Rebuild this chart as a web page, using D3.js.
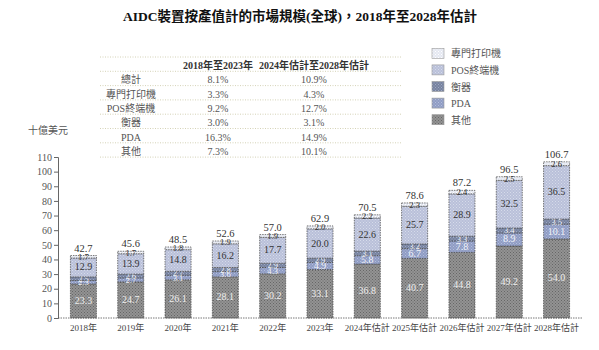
<!DOCTYPE html>
<html>
<head>
<meta charset="utf-8">
<script src="https://cdn.jsdelivr.net/npm/d3@7"></script>
<style>
  body { margin: 0; background: #fff; }
  text { font-family: "Liberation Serif", "Noto Sans CJK TC", serif; }
</style>
</head>
<body>
<div id="chart"></div>
<script>
// Data
const years = ['2018年', '2019年', '2020年', '2021年', '2022年', '2023年',
    '2024年估計', '2025年估計', '2026年估計', '2027年估計', '2028年估計']
const others = [23.3, 24.7, 26.1, 28.1, 30.2, 33.1, 36.8, 40.7, 44.8, 49.2, 54.0]
const pda = [2.3, 2.7, 3.1, 3.6, 4.3, 4.9, 5.8, 6.7, 7.8, 8.9, 10.1]
const scales = [2.5, 2.6, 2.7, 2.8, 2.9, 2.9, 3.1, 3.2, 3.3, 3.4, 3.5]
const pos = [12.9, 13.9, 14.8, 16.2, 17.7, 20.0, 22.6, 25.7, 28.9, 32.5, 36.5]
const printers = [1.7, 1.7, 1.8, 1.9, 1.9, 2.0, 2.2, 2.3, 2.4, 2.5, 2.6]
const totals = [42.7, 45.6, 48.5, 52.6, 57.0, 62.9, 70.5, 78.6, 87.2, 96.5, 106.7]
const yTicks = [0, 10, 20, 30, 40, 50, 60, 70, 80, 90, 100, 110]

const seriesNames = ['其他', 'PDA', '衡器', 'POS終端機', '專門打印機']
const legendOrder = ['專門打印機', 'POS終端機', '衡器', 'PDA', '其他']

const tableHeader = ['', '2018年至2023年', '2024年估計至2028年估計']
const tableRows = ['總計', '專門打印機', 'POS終端機', '衡器', 'PDA', '其他']
const cagrHistoric = ['8.1%', '3.3%', '9.2%', '3.0%', '16.3%', '7.3%']
const cagrForecast = ['10.9%', '4.3%', '12.7%', '3.1%', '14.9%', '10.1%']

const width = 599, height = 350
const colors = {
    '其他': '#939393',
    'PDA': '#8f9cc4',
    '衡器': '#76829f',
    'POS終端機': '#b9c0d9',
    '專門打印機': '#e4e7f1'
}
const dotColors = {
    '其他': '#666666',
    'PDA': '#b4bedb',
    '衡器': '#a0aac4',
    'POS終端機': '#d6dbea',
    '專門打印機': '#ffffff'
}
const labelColors = {
    '其他': '#eeeeee',
    'PDA': '#f0f2f8',
    '衡器': '#f0f2f8',
    'POS終端機': '#333333',
    '專門打印機': '#333333'
}

const svg = d3.select('#chart').append('svg').attr('width', width).attr('height', height)

// textured fills
const defs = svg.append('defs')
seriesNames.forEach((name, i) => {
    const p = defs.append('pattern').attr('id', 'pat' + i)
        .attr('width', 3).attr('height', 3).attr('patternUnits', 'userSpaceOnUse')
    p.append('rect').attr('width', 3).attr('height', 3).attr('fill', colors[name])
    p.append('rect').attr('x', 0).attr('y', 0).attr('width', 1).attr('height', 1).attr('fill', dotColors[name])
    p.append('rect').attr('x', 1.5).attr('y', 1.5).attr('width', 1).attr('height', 1).attr('fill', dotColors[name])
})
const fillOf = (name) => 'url(#pat' + seriesNames.indexOf(name) + ')'

// title
svg.append('text').attr('x', 300).attr('y', 21).attr('text-anchor', 'middle')
    .attr('font-size', 13.5).attr('font-weight', 'bold').attr('fill', '#111')
    .text('AIDC裝置按產值計的市場規模(全球)，2018年至2028年估計')

// CAGR table
const colX = [131, 218, 314]
const rowY = d3.scaleLinear().domain([0, 1]).range([65, 79.3])
const lineY = (i) => rowY(i) - 8
for (let i = 0; i <= tableRows.length + 1; i++) {
    svg.append('line').attr('x1', 100).attr('x2', 402).attr('y1', lineY(i)).attr('y2', lineY(i))
        .attr('stroke', '#c9c7a4').attr('stroke-width', 0.8).attr('stroke-dasharray', '1,1.5')
}
tableHeader.forEach((h, j) => {
    svg.append('text').attr('x', colX[j]).attr('y', rowY(0) + 4).attr('text-anchor', 'middle')
        .attr('font-size', 10).attr('font-weight', 'bold').attr('fill', '#333').text(h)
})
tableRows.forEach((r, i) => {
    const cells = [r, cagrHistoric[i], cagrForecast[i]]
    cells.forEach((c, j) => {
        svg.append('text').attr('x', colX[j]).attr('y', rowY(i + 1) + 4).attr('text-anchor', 'middle')
            .attr('font-size', 10).attr('fill', '#555').text(c)
    })
})

// legend
const legendY = d3.scaleBand().domain(legendOrder).range([45, 128])
legendOrder.forEach((name) => {
    const y = legendY(name) + legendY.bandwidth() / 2
    svg.append('rect').attr('x', 432).attr('y', y - 5).attr('width', 12).attr('height', 10)
        .attr('fill', fillOf(name)).attr('stroke', '#999').attr('stroke-width', 0.6)
    svg.append('text').attr('x', 451).attr('y', y + 4).attr('font-size', 10).attr('fill', '#555').text(name)
})

// scales and axes
const x = d3.scaleBand().domain(years).range([60, 580]).paddingInner(0.45).paddingOuter(0.22)
const y = d3.scaleLinear().domain([0, 110]).range([318, 157])

const yAxis = svg.append('g').attr('transform', 'translate(58,0)')
    .call(d3.axisLeft(y).tickValues(yTicks).tickSize(4).tickPadding(2))
yAxis.selectAll('path, line').attr('stroke', '#666')
yAxis.selectAll('text').attr('font-size', 10).attr('fill', '#555')
    .style('font-family', '"Liberation Serif", serif')

svg.append('text').attr('x', 48).attr('y', 134).attr('text-anchor', 'middle')
    .attr('font-size', 10).attr('fill', '#555').text('十億美元')

// stacked bars
const rows = years.map((yr, i) => ({
    year: yr, '其他': others[i], 'PDA': pda[i], '衡器': scales[i],
    'POS終端機': pos[i], '專門打印機': printers[i], total: totals[i]
}))
const stacked = d3.stack().keys(seriesNames)(rows)

stacked.forEach((layer) => {
    const name = layer.key
    const g = svg.append('g')
    g.selectAll('rect').data(layer).enter().append('rect')
        .attr('x', d => x(d.data.year))
        .attr('y', d => y(d[1]))
        .attr('width', x.bandwidth())
        .attr('height', d => y(d[0]) - y(d[1]))
        .attr('fill', fillOf(name))
        .attr('stroke', '#444').attr('stroke-width', 0.7).attr('stroke-dasharray', '1.5,1')
    g.selectAll('text').data(layer).enter().append('text')
        .attr('x', d => x(d.data.year) + x.bandwidth() / 2)
        .attr('y', d => (y(d[0]) + y(d[1])) / 2 + 3)
        .attr('text-anchor', 'middle')
        .attr('font-size', d => (y(d[0]) - y(d[1]) < 7 ? 8.5 : 10))
        .attr('fill', labelColors[name])
        .text(d => d.data[name].toFixed(1))
})

// totals
svg.append('g').selectAll('text').data(rows).enter().append('text')
    .attr('x', d => x(d.year) + x.bandwidth() / 2)
    .attr('y', d => y(d.total) - 4)
    .attr('text-anchor', 'middle').attr('font-size', 10.5).attr('fill', '#333')
    .text(d => d.total.toFixed(1))

// baseline and x labels
svg.append('line').attr('x1', 58).attr('x2', 582).attr('y1', y(0)).attr('y2', y(0))
    .attr('stroke', '#555').attr('stroke-width', 0.8).attr('stroke-dasharray', '1.5,1')
svg.append('g').selectAll('text').data(years).enter().append('text')
    .attr('x', d => x(d) + x.bandwidth() / 2).attr('y', 331)
    .attr('text-anchor', 'middle').attr('font-size', 9).attr('fill', '#444')
    .text(d => d)
</script>
</body>
</html>
